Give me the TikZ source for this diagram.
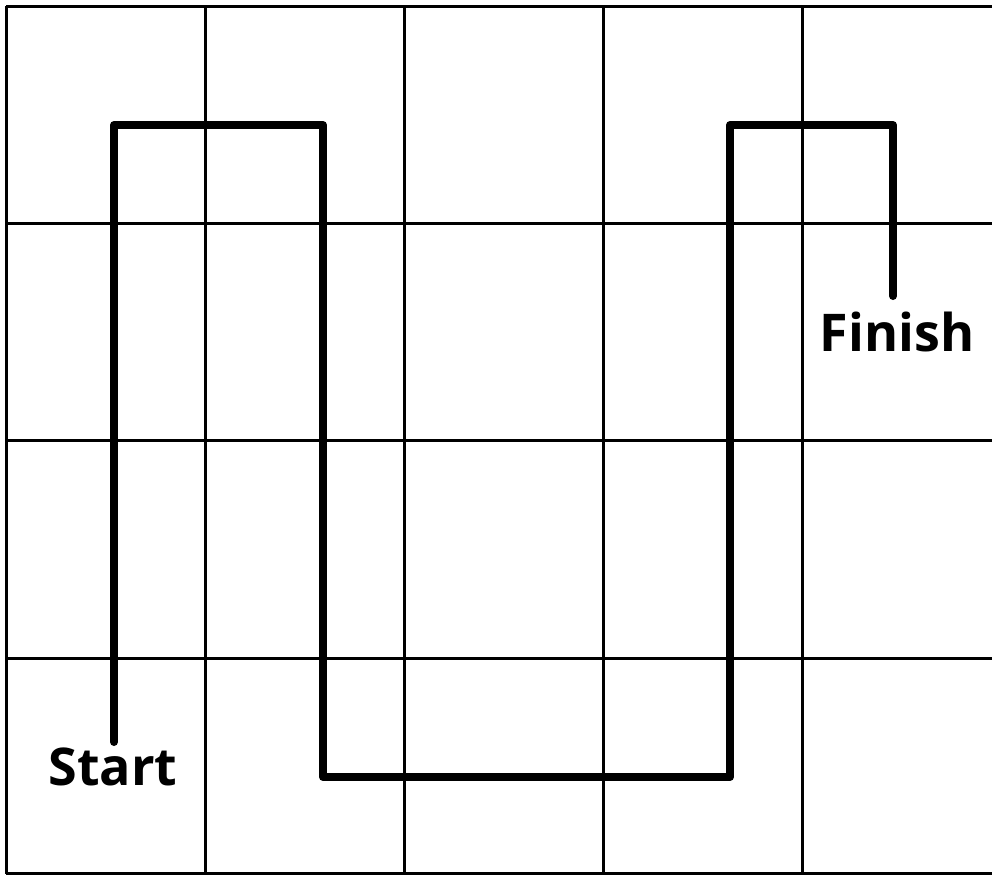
\documentclass[tikz,border=0pt]{standalone}
\usepackage{fontspec}
\setmainfont{Open Sans}
\usepackage{tikz}
\usetikzlibrary{positioning}

\tikzset{
    gridline/.style={line width=1.5pt, black},
    route/.style={line width=4pt, black, line cap=round, line join=round},
    endlabel/.style={font=\fontsize{26}{30}\selectfont\bfseries, inner sep=0pt}
}

\begin{document}
\begin{tikzpicture}[x=0.5pt, y=-0.5pt]
    \useasboundingbox (0,0) rectangle (992,875);

    % Grid
    \foreach \x in {6,205,404,603,802} {
        \draw[gridline] (\x,6) -- (\x,874);
    }
    \foreach \y in {6,223,440,658,873} {
        \draw[gridline] (6,\y) -- (992,\y);
    }

    % Route corners
    \coordinate (p0) at (114,742);
    \coordinate (p1) at (114,125);
    \coordinate (p2) at (323,125);
    \coordinate (p3) at (323,777);
    \coordinate (p4) at (730,777);
    \coordinate (p5) at (730,125);
    \coordinate (p6) at (893,125);
    \coordinate (p7) at (893,296);

    \draw[route] (p0) -- (p1) -- (p2) -- (p3) -- (p4) -- (p5) -- (p6) -- (p7);

    % Labels
    \node[endlabel] (start) at (113,767) {Start};
    \node[endlabel] (finish) at (897,332) {Finish};
\end{tikzpicture}
\end{document}
